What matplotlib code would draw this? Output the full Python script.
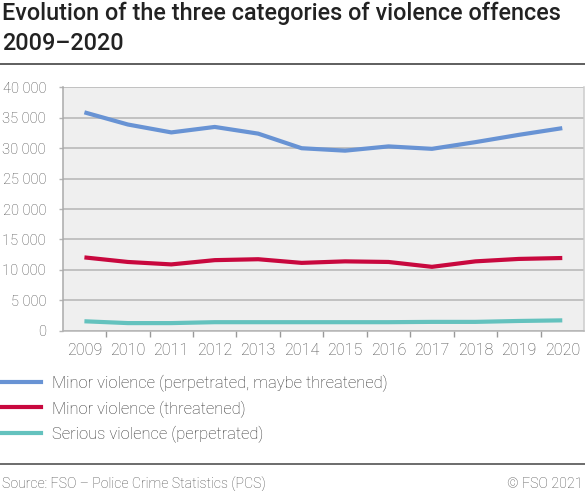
import matplotlib
matplotlib.use("Agg")
import matplotlib.pyplot as plt
from matplotlib.lines import Line2D
from matplotlib.ticker import FuncFormatter

## DATA

years = ["2009", "2010", "2011", "2012", "2013", "2014",
         "2015", "2016", "2017", "2018", "2019", "2020"]

minor_perp = [35900, 33900, 32600, 33500, 32400, 30000,
              29600, 30300, 29900, 31000, 32200, 33300]
minor_threat = [12050, 11300, 10900, 11600, 11750, 11150,
                11400, 11300, 10500, 11400, 11800, 11950]
serious_perp = [1550, 1250, 1250, 1400, 1400, 1400,
                1400, 1400, 1450, 1450, 1600, 1700]

labels = ["Minor violence (perpetrated, maybe threatened)",
          "Minor violence (threatened)",
          "Serious violence (perpetrated)"]
colors = ["#6893d4", "#c8083e", "#64c2be"]
yticks = [0, 5000, 10000, 15000, 20000, 25000, 30000, 35000, 40000]

## STYLE
plt.rcParams['font.family'] = ['Roboto', 'DejaVu Sans']
TXT = '#222222'
TICK = '#4d4d4d'
GRID = '#b5b5b5'

fig = plt.figure(figsize=[5.85, 4.91], dpi=100, facecolor='w')
ax = fig.add_axes([62.7/585, 1-330.7/491, (584-62.7)/585, (330.7-87.4)/491])
ax.set_facecolor('#efefef')

x = list(range(len(years)))
for vals, c, lab in zip([minor_perp, minor_threat, serious_perp], colors, labels):
  ax.plot(x, vals, c=c, lw=3.0, solid_joinstyle='round', solid_capstyle='butt', label=lab, zorder=3)

ax.set(xlim=[-0.5, len(years)-0.5], ylim=[0, 40000])
ax.set_yticks(yticks)
ax.yaxis.set_major_formatter(FuncFormatter(lambda v, p: "{:,.0f}".format(v).replace(",", " ")))
ax.grid(axis='y', color=GRID, lw=1.1, zorder=1)
ax.set_axisbelow(True)

# category labels centered in bands, ticks at band edges
ax.set_xticks(x)
ax.set_xticklabels(years)
ax.set_xticks([i - 0.5 for i in range(1, len(years))], minor=True)
ax.tick_params(axis='x', which='major', length=0, pad=8.5, labelsize=11.6, labelcolor=TICK)
ax.tick_params(axis='x', which='minor', length=4, width=1, color='#999999')
ax.tick_params(axis='y', length=3, width=1, color=GRID, pad=9, labelsize=10.5, labelcolor=TICK)
for lab in ax.get_xticklabels() + ax.get_yticklabels():
  lab.set_fontweight('light')

ax.spines['top'].set_visible(False)
ax.spines['left'].set_color('#aaaaaa')
ax.spines['right'].set_color('#cccccc')
ax.spines['bottom'].set_color(GRID)
for s in ['left', 'right', 'bottom']:
  ax.spines[s].set_linewidth(1.1)

## TITLE AND RULES
fig.text(2/585, 1-20/491, "Evolution of the three categories of violence offences",
         fontsize=16.8, fontweight='medium', color=TXT, va='baseline', ha='left')
fig.text(2/585, 1-50/491, "2009\u20132020",
         fontsize=16.8, fontweight='medium', color=TXT, va='baseline', ha='left')
fig.add_artist(Line2D([0, 1], [1-63.5/491, 1-63.5/491], color='#333333', lw=1.1))

## LEGEND (drawn by hand to sit flush left)
for i, (c, lab) in enumerate(zip(colors, labels)):
  yy = 1 - (381.7 + 25.5*i)/491
  fig.add_artist(Line2D([0, 41/585], [yy, yy], color=c, lw=3.0))
  fig.text(52/585, yy, lab, fontsize=11.9, fontweight='light', color='#333333',
           va='center_baseline', ha='left')

## FOOTER
fig.add_artist(Line2D([0, 1], [1-464/491, 1-464/491], color='#444444', lw=1.1))
fig.text(2/585, 1-483/491, "Source: FSO \u2013 Police Crime Statistics (PCS)",
         fontsize=10.2, fontweight='light', color=TICK, va='center_baseline', ha='left')
fig.text(583/585, 1-483/491, "\u00a9 FSO 2021",
         fontsize=10.3, fontweight='light', color=TICK, va='center_baseline', ha='right')

fig.savefig('out.png', dpi=100, facecolor='w')
